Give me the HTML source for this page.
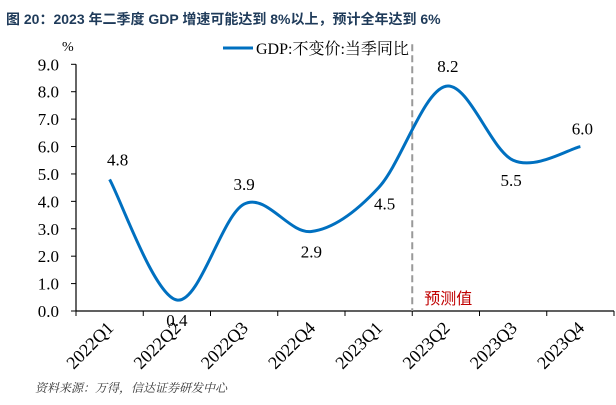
<!DOCTYPE html>
<html><head><meta charset="utf-8"><style>
body{margin:0;background:#fff;width:616px;height:405px;overflow:hidden}
svg{display:block}
</style></head><body>
<svg width="616" height="405" xmlns="http://www.w3.org/2000/svg">
<text x="6" y="24" font-family="'Liberation Sans','Noto Sans CJK SC',sans-serif" font-weight="bold" font-size="14" fill="#1f3b5a">图 20：2023 年二季度 GDP 增速可能达到 8%以上，预计全年达到 6%</text>
<g id="chart"></g>
<text x="35" y="392" font-family="'Liberation Serif','Noto Serif CJK SC',serif" font-style="italic" font-size="12" fill="#333">资料来源：万得，信达证券研发中心</text>
</svg>
<script>
const categories=["2022Q1","2022Q2","2022Q3","2022Q4","2023Q1","2023Q2","2023Q3","2023Q4"];
const values=[4.8,0.4,3.9,2.9,4.5,8.2,5.5,6.0];
const yTicks=[0,1,2,3,4,5,6,7,8,9];
const NS="http://www.w3.org/2000/svg",g=document.getElementById('chart');
const L=76,R=614,T=64.3,B=311,yMax=9;
const step=(R-L)/categories.length;
const x=i=>L+step*(i+0.5), y=v=>B-(v/yMax)*(B-T);
const F="'Liberation Serif','Noto Serif CJK SC',serif";
function mk(t,a,txt){const e=document.createElementNS(NS,t);for(const k in a)e.setAttribute(k,a[k]);if(txt!=null)e.textContent=txt;g.appendChild(e);return e;}
let e;
e=mk('line',{x1:L,y1:T,x2:L,y2:B,stroke:'#000','stroke-width':1.2});


e=mk('line',{x1:L,y1:B,x2:R,y2:B,stroke:'#000','stroke-width':1.2});


yTicks.forEach(v=>{
 mk('line',{x1:L-5,y1:y(v),x2:L,y2:y(v),stroke:'#000'});
 e=mk('text',{x:L-17,y:y(v)+6,'text-anchor':'end','font-family':F,'font-size':17},v.toFixed(1));
 
 
});
e=mk('text',{x:62,y:51,'font-family':F,'font-size':14},'%');


for(let i=0;i<=categories.length;i++){mk('line',{x1:L+step*i,y1:B,x2:L+step*i,y2:B+5,stroke:'#000'});}
categories.forEach((c,i)=>{
 e=mk('text',{x:x(i)+5,y:B+18,'text-anchor':'end','font-family':F,'font-size':18,transform:`rotate(-45 ${x(i)+5} ${B+18})`},c);
 
 
});
const dx=L+step*5;
e=mk('line',{x1:dx,y1:T-20,x2:dx,y2:B,stroke:'#999','stroke-width':2,'stroke-dasharray':'7,4'});


e=mk('text',{x:dx+12,y:B-7,'font-family':"'Liberation Sans','Noto Sans CJK SC',sans-serif",'font-size':16,fill:'#c00000'},'预测值');


const P=values.map((v,i)=>[x(i),y(v)]);
let d=`M${P[0][0]},${P[0][1]}`;
for(let i=0;i<P.length-1;i++){const p0=P[i-1]||P[i],p1=P[i],p2=P[i+1],p3=P[i+2]||p2,t=6;
 d+=`C${p1[0]+(p2[0]-p0[0])/t},${p1[1]+(p2[1]-p0[1])/t} ${p2[0]-(p3[0]-p1[0])/t},${p2[1]-(p3[1]-p1[1])/t} ${p2[0]},${p2[1]}`;}
e=mk('path',{d:d,fill:'none',stroke:'#0070c0','stroke-width':3});


const off=[[8,-14],[0,26],[0,-14],[0,26],[6,22],[2,-14],[-2,26],[2,-12]];
values.forEach((v,i)=>{
 e=mk('text',{x:P[i][0]+off[i][0],y:P[i][1]+off[i][1],'text-anchor':'middle','font-family':F,'font-size':17},v.toFixed(1));
 
 
});
e=mk('line',{x1:223,y1:48,x2:253,y2:48,stroke:'#0070c0','stroke-width':3});


e=mk('text',{x:256,y:54,'font-family':"'Liberation Serif','Noto Serif CJK SC',serif",'font-size':16},'GDP:不变价:当季同比');


</script>
</body></html>
